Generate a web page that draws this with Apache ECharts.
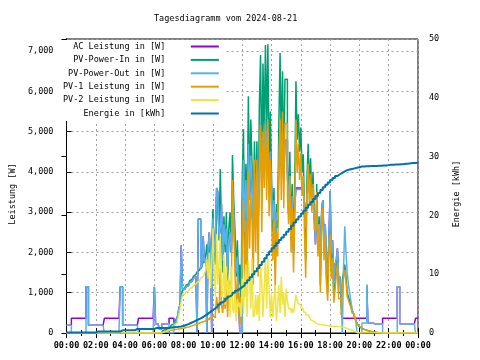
<!DOCTYPE html>
<html>
<head>
<meta charset="utf-8">
<script src="https://cdn.jsdelivr.net/npm/echarts@6/dist/echarts.min.js"></script>
<style>html,body{margin:0;padding:0;background:#fff}#c{width:480px;height:360px}</style>
</head>
<body>
<div id="c"></div>
<script>
const seriesNames = ['AC Leistung in [W]', 'PV-Power-In in [W]', 'PV-Power-Out in [W]', 'PV-1 Leistung in [W]', 'PV-2 Leistung in [W]', 'Energie in [kWh]'];
const xTickLabels = ['00:00','02:00','04:00','06:00','08:00','10:00','12:00','14:00','16:00','18:00','20:00','22:00','00:00'];
// power series: 5-minute samples 00:00..24:00 (289 values, one row per hour)
const powerStepH = 1 / 12;
// energy series: 10-minute samples 00:00..24:00 (145 values)
const energyStepH = 1 / 6;

const acPower = [
  190,190,190,190,365,365,365,365,365,365,365,365,
  365,365,365,365,1150,1150,190,190,190,190,190,190,
  190,190,190,190,190,190,190,365,365,365,365,365,
  365,365,365,365,365,365,365,365,1150,1150,190,190,
  190,190,190,190,190,190,190,190,190,190,190,365,
  365,365,365,365,365,365,365,365,365,365,365,365,
  1150,230,230,230,100,100,230,230,230,230,230,230,
  365,365,365,365,250,250,300,400,600,700,2180,1100,
  1080,1110,1150,1180,1220,1250,1290,1330,1360,1400,1440,0,
  2830,2830,1600,1650,2400,1750,1850,0,2100,2500,1900,0,
  2850,2000,2300,3600,3500,2400,2600,3200,1800,2700,2200,2600,
  1500,2300,2500,2000,3300,3000,2000,1500,1900,900,0,0,
  3000,4300,2500,3800,2500,4700,3300,4400,3800,2600,4000,2800,
  4000,2600,4500,5200,3600,4800,4200,5300,4300,5000,3600,4500,
  3500,2800,3300,2300,3000,2800,4200,5100,4200,5000,3800,4800,
  4800,4000,3000,3900,2300,3400,2000,3200,3600,3600,3600,3600,
  3600,3600,3600,3200,2600,3400,3600,3600,3600,3600,3600,3000,
  2200,3200,2300,2700,1800,2900,3300,2300,2700,1700,1500,2300,
  3520,2000,2300,1300,1700,1800,2100,1300,1400,900,365,365,
  365,365,365,365,365,365,365,365,365,365,365,365,
  365,365,365,365,365,365,1200,250,240,240,240,240,
  230,230,230,230,230,230,230,365,365,365,365,365,
  365,365,365,365,365,365,365,1150,1150,230,230,230,
  230,230,230,230,230,230,230,230,230,230,365,365,
  365
];
const pvPowerIn = [
  0,0,0,0,0,0,0,0,0,0,0,0,
  0,0,0,0,0,0,0,0,0,0,0,0,
  0,0,0,0,0,0,0,0,0,0,0,0,
  0,0,0,0,0,0,0,0,0,0,0,0,
  0,0,0,0,0,0,0,0,0,0,0,0,
  0,0,0,0,0,0,0,0,0,0,0,0,
  0,0,0,0,10,10,40,60,80,90,110,130,
  150,170,200,220,260,300,350,420,550,700,900,1080,
  1120,1150,1190,1220,1260,1300,1340,1380,1410,1450,1490,1520,
  1560,1600,1650,1700,1750,1800,1900,2200,1700,2400,1500,2200,
  3080,1900,1700,3400,3200,2300,4070,2600,1500,2900,2000,3000,
  1300,2600,3000,2000,4420,3300,2600,1400,2300,1200,1700,600,
  3800,5060,2200,4200,2800,5880,3500,5300,4200,2600,4760,3000,
  4760,2400,5600,6900,3800,6690,4800,7150,5000,7170,4000,5500,
  3900,2500,3600,1800,3200,2600,5200,6950,4500,6500,4000,6300,
  6300,4200,3300,4500,2500,3700,2000,3600,6250,4800,5430,4500,
  5100,4000,4440,3000,1800,3800,4700,3600,4340,3300,4000,2800,
  2800,3700,2100,2900,1200,3000,3300,2000,2600,1400,1000,2200,
  2600,1500,2000,900,1200,1600,1900,1000,1000,600,1300,1500,
  1700,1400,1000,900,800,700,550,500,400,320,250,200,
  150,120,100,90,80,70,60,50,40,35,30,25,
  20,15,10,5,0,0,0,0,0,0,0,0,
  0,0,0,0,0,0,0,0,0,0,0,0,
  0,0,0,0,0,0,0,0,0,0,0,0,
  0
];
const pvPowerOut = [
  190,190,190,190,0,0,0,0,0,0,0,0,
  0,0,0,0,1150,1150,190,190,190,190,190,190,
  190,190,190,190,190,190,190,0,0,0,0,0,
  0,0,0,0,0,0,0,0,1150,1150,190,190,
  190,190,190,190,190,190,190,190,190,190,190,0,
  0,0,0,0,0,0,0,0,0,0,0,0,
  1150,230,230,230,100,100,230,230,230,230,230,230,
  0,0,0,0,250,250,300,400,600,700,2180,1100,
  1080,1110,1150,1180,1220,1250,1290,1330,1360,1400,1440,0,
  2830,2830,1600,1650,2400,1750,1850,0,2100,2500,1900,0,
  2850,2000,2300,3600,3500,2400,2600,3200,1800,2700,2200,2600,
  1500,2300,2500,2000,3300,3000,2000,1500,1900,900,0,0,
  3000,4300,2500,3800,2500,4700,3300,4400,3800,2600,4000,2800,
  4000,2600,4500,5200,3600,4800,4200,5300,4300,5000,3600,4500,
  3500,2800,3300,2300,3000,2800,4200,5100,4200,5000,3800,4800,
  4800,4000,3000,3900,2300,3400,2000,3200,3560,3560,3560,3560,
  3560,3560,3560,3200,2600,3400,3560,3560,3560,3560,3560,3000,
  2200,3200,2300,2700,1800,2900,3300,2300,2700,1700,1500,2300,
  3520,2000,2300,1300,1700,1800,2100,1300,1400,900,0,1600,
  2650,2000,1500,1200,1000,800,600,500,400,320,0,0,
  0,0,250,250,250,250,1200,250,240,240,240,240,
  230,230,230,230,230,230,230,0,0,0,0,0,
  0,0,0,0,0,0,0,1150,1150,230,230,230,
  230,230,230,230,230,230,230,230,230,230,0,0,
  0
];
const pv1Power = [
  0,0,0,0,0,0,0,0,0,0,0,0,
  0,0,0,0,0,0,0,0,0,0,0,0,
  0,0,0,0,0,0,0,0,0,0,0,0,
  0,0,0,0,0,0,0,0,0,0,0,0,
  0,0,0,0,0,0,0,0,0,0,0,0,
  0,0,0,0,0,0,0,0,0,0,0,0,
  0,0,0,0,10,10,25,35,45,50,55,60,
  65,70,75,80,85,90,95,100,105,110,115,120,
  130,135,140,150,160,170,180,190,200,210,220,230,
  250,260,270,280,290,300,320,350,330,380,360,380,
  420,380,500,900,600,500,1600,700,500,900,600,1300,
  400,1200,1300,900,3800,2800,1500,600,1400,500,900,200,
  2400,3300,900,2800,1200,4000,2100,3400,2800,1200,4300,2000,
  4300,1400,4000,5160,2500,5000,3600,5200,3300,5300,2900,4300,
  2900,1800,2800,1100,2500,1900,4000,5300,3300,5500,3100,5200,
  5200,3400,2700,3900,2000,3100,1500,2900,5300,4000,4700,3800,
  4470,3400,3900,2500,1370,3350,4200,3200,3950,3000,3700,2550,
  2600,3500,1900,2700,1000,2800,3100,1800,2450,1200,800,2000,
  2450,1350,1850,750,1050,1450,1750,850,850,450,1150,1360,
  1570,1290,900,810,720,630,500,460,370,300,240,190,
  150,120,100,90,80,70,60,50,40,35,30,25,
  20,15,10,5,0,0,0,0,0,0,0,0,
  0,0,0,0,0,0,0,0,0,0,0,0,
  0,0,0,0,0,0,0,0,0,0,0,0,
  0
];
const pv2Power = [
  0,0,0,0,0,0,0,0,0,0,0,0,
  0,0,0,0,0,0,0,0,0,0,0,0,
  0,0,0,0,0,0,0,0,0,0,0,0,
  0,0,0,0,0,0,0,0,0,0,0,0,
  0,0,0,0,0,0,0,0,0,0,0,0,
  0,0,0,0,0,0,0,0,0,0,0,0,
  0,0,0,0,0,0,15,25,35,40,55,70,
  85,100,125,140,175,210,255,320,445,590,785,960,
  960,985,1020,1040,1070,1100,1130,1160,1180,1210,1240,1260,
  1290,1320,1360,1400,1440,1480,1560,1830,1350,1990,1120,1800,
  2600,1500,900,2450,1200,1750,2400,900,950,1950,700,1650,
  850,1350,400,1650,600,500,1050,300,850,650,750,400,
  1350,500,1250,1700,400,1800,1350,600,1850,400,450,950,
  450,950,300,1700,1250,400,1150,1900,600,1850,1050,400,
  1000,400,800,1200,300,700,1200,500,1400,700,1000,400,
  1100,800,600,600,500,600,500,700,950,800,730,700,
  630,600,540,500,450,450,420,400,330,300,260,250,
  220,220,220,210,210,200,200,190,190,180,180,170,
  170,170,170,170,170,160,160,160,150,150,140,140,
  120,110,100,90,80,70,50,40,30,20,10,5,
  0,0,0,0,0,0,0,0,0,0,0,0,
  0,0,0,0,0,0,0,0,0,0,0,0,
  0,0,0,0,0,0,0,0,0,0,0,0,
  0,0,0,0,0,0,0,0,0,0,0,0,
  0
];
const energyKWh = [
  0.1,0.1,0.1,0.1,0.1,0.1, 0.1,0.1,0.1,0.1,0.1,0.1, 0.25,0.25,0.25,0.25,0.25,0.25, 0.25,0.25,0.25,0.25,0.45,0.45,
  0.45,0.45,0.45,0.45,0.7,0.7, 0.7,0.7,0.7,0.7,0.7,0.7, 0.85,0.85,0.85,0.85,0.85,0.85, 0.95,0.98,1.0,1.05,1.1,1.2,
  1.35,1.5,1.7,1.9,2.1,2.3, 2.5,2.75,3.0,3.3,3.6,3.9, 4.2,4.5,4.85,5.2,5.5,5.85, 6.2,6.5,6.85,7.2,7.5,7.8,
  8.1,8.5,8.95,9.5,10.0,10.5, 11.0,11.55,12.1,12.7,13.3,13.85, 14.4,14.85,15.3,15.8,16.25,16.7, 17.2,17.7,18.25,18.8,19.3,19.8,
  20.3,20.8,21.3,21.8,22.3,22.8, 23.3,23.8,24.3,24.8,25.2,25.6, 26.0,26.35,26.7,27.0,27.25,27.5, 27.7,27.8,27.9,28.0,28.1,28.2,
  28.3,28.3,28.35,28.35,28.4,28.4, 28.4,28.45,28.45,28.5,28.5,28.55, 28.6,28.6,28.65,28.65,28.7,28.7, 28.8,28.8,28.85,28.9,28.9,28.95,
  29.0
];

const colors = ['#9400d3', '#009e73', '#56b4e9', '#e69f00', '#f0e442', '#0072b2'];
const FONT = 'DejaVu Sans Mono';
const FS = 8.5;

function toPairs(arr, step) { return arr.map((v, i) => [i * step, v]); }

const seriesData = [acPower, pvPowerIn, pvPowerOut, pv1Power, pv2Power, energyKWh];

const chart = echarts.init(document.getElementById('c'), null, { renderer: 'canvas' });

const gridLine = { show: true, lineStyle: { color: '#a0a0a0', type: [2, 3], width: 1 } };

chart.setOption({
  animation: false,
  backgroundColor: '#fff',
  title: {
    text: 'Tagesdiagramm vom 2024-08-21',
    left: 154, top: 14, padding: 0,
    textStyle: { fontFamily: FONT, fontSize: FS, fontWeight: 'normal', color: '#000' }
  },
  legend: {
    orient: 'vertical',
    left: 59, top: 40,
    padding: [2, 6, 3, 4],
    backgroundColor: '#fff',
    align: 'right',
    icon: 'rect',
    itemWidth: 28, itemHeight: 2, itemGap: 4.4,
    data: seriesNames,
    formatter: n => n.padStart(20, ' ') + '    ',
    textStyle: { fontFamily: FONT, fontSize: FS, color: '#000' }
  },
  grid: { left: 58, right: 62, top: 39, bottom: 27, show: true, borderColor: '#000', borderWidth: 1, backgroundColor: 'transparent' },
  xAxis: [{
    type: 'value', min: 0, max: 24, interval: 2,
    axisLine: { lineStyle: { color: '#000', width: 1 } },
    axisTick: { inside: true, length: 5, lineStyle: { color: '#000' } },
    minorTick: { show: true, splitNumber: 2, length: 3, lineStyle: { color: '#000' } },
    splitLine: gridLine,
    axisLabel: {
      formatter: v => xTickLabels[Math.round(v / 2)],
      fontFamily: FONT, fontSize: FS, fontWeight: 'bold', color: '#000', margin: 8,
      showMinLabel: true, showMaxLabel: true
    }
  }, {
    type: 'value', min: 0, max: 24, interval: 2, position: 'top',
    axisLine: { lineStyle: { color: '#000', width: 1 } },
    axisTick: { inside: true, length: 5, lineStyle: { color: '#000' } },
    minorTick: { show: true, splitNumber: 2, length: 3, lineStyle: { color: '#000' } },
    splitLine: { show: false },
    axisLabel: { show: false }
  }],
  yAxis: [{
    type: 'value', min: 0, max: 7300, interval: 1000,
    name: 'Leistung [W]', nameLocation: 'middle', nameGap: 49, nameRotate: 90,
    nameTextStyle: { fontFamily: FONT, fontSize: FS, color: '#000', padding: [0, 16, 0, 0] },
    axisLine: { show: true, lineStyle: { color: '#000', width: 1 } },
    axisTick: { show: true, inside: true, length: 5, lineStyle: { color: '#000' } },
    splitLine: gridLine,
    axisLabel: { fontFamily: FONT, fontSize: FS, color: '#000', margin: 13, showMaxLabel: false }
  }, {
    type: 'value', min: 0, max: 50, interval: 10, position: 'right',
    name: 'Energie [kWh]', nameLocation: 'middle', nameGap: 34, nameRotate: 90,
    nameTextStyle: { fontFamily: FONT, fontSize: FS, color: '#000', padding: [0, 16, 0, 0] },
    axisLine: { show: true, lineStyle: { color: '#000', width: 1 } },
    axisTick: { show: true, inside: true, length: 5, lineStyle: { color: '#000' } },
    splitLine: { show: false },
    axisLabel: { fontFamily: FONT, fontSize: FS, color: '#000', margin: 11 }
  }],
  series: seriesNames.map((name, k) => ({
    name: name,
    type: 'line',
    step: 'end',
    yAxisIndex: k === 5 ? 1 : 0,
    symbol: 'none',
    showSymbol: false,
    color: colors[k],
    lineStyle: { color: colors[k], width: k === 5 ? 2 : 1.5 },
    data: toPairs(seriesData[k], k === 5 ? energyStepH : powerStepH)
  }))
});
</script>
</body>
</html>
